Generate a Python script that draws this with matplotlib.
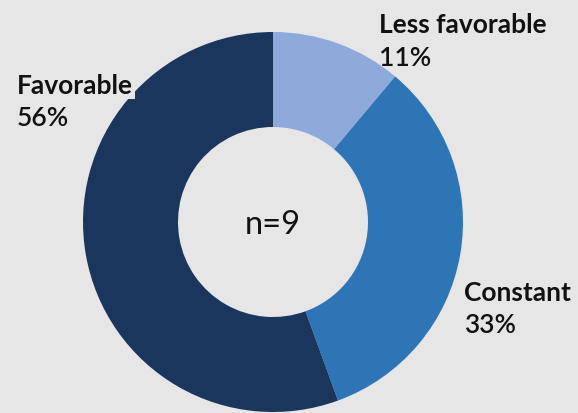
import matplotlib.pyplot as plt

# chart data
categories = ["Less favorable", "Constant", "Favorable"]
counts = [1, 3, 5]
colors = ["#8eaadb", "#2e75b6", "#1a365d"]

# label anchor points in pixel coords from top (x, y of label line, y of pct line)
label_pos = {
    "Less favorable": (379, 25, 59),
    "Constant": (464, 293, 326),
    "Favorable": (17, 86, 118),
}

W, H = 578, 414
bg = "#e6e6e6"

fig = plt.figure(figsize=(W / 100, H / 100), dpi=100, facecolor=bg)
ax = fig.add_axes([0, 0, 1, 1])
ax.set_facecolor(bg)

total = sum(counts)
cx, cy, R = 273, 223, 190
ax.pie(counts, colors=colors, startangle=90, counterclock=False,
       radius=R, center=(cx, H - cy),
       wedgeprops=dict(width=R * 0.5, linewidth=0))
ax.set_xlim(0, W)
ax.set_ylim(0, H)
ax.set_aspect("equal")
ax.axis("off")

ax.text(cx, H - cy - 2, f"n={total}", ha="center", va="center",
        fontsize=23.5, family="Lato", color="#111111")

for name, c in zip(categories, counts):
    x, y1, y2 = label_pos[name]
    ax.text(x, H - y1, name, ha="left", va="center", fontsize=19,
            family="Lato", fontweight="bold", color="#111111",
            bbox=dict(facecolor=bg, edgecolor="none", pad=1.5) if name == "Favorable" else None)
    ax.text(x, H - y2, f"{round(100 * c / total)}%", ha="left", va="center",
            fontsize=19, family="Lato", fontweight="semibold", color="#111111")

fig.savefig("out.png", dpi=100, facecolor=bg)
